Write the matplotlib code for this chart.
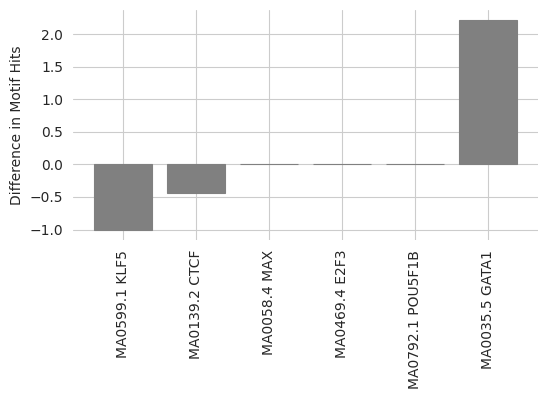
import numpy as np
import matplotlib
matplotlib.use("Agg")
import matplotlib.pyplot as plt
import seaborn as sns

# motif names and difference in hit counts
motifs = ['MA0599.1 KLF5', 'MA0139.2 CTCF', 'MA0058.4 MAX',
          'MA0469.4 E2F3', 'MA0792.1 POU5F1B', 'MA0035.5 GATA1']
diff_hits = [-1.0, -0.44, 0.0, 0.0, 0.0, 2.21]

sns.set_style("whitegrid")

fig, ax = plt.subplots(figsize=(5.48, 4.0), dpi=100)
x = np.arange(len(motifs))
ax.bar(x, diff_hits, color='grey', edgecolor='grey', linewidth=0.8)
ax.set_xticks(x)
ax.set_xticklabels(motifs, rotation=90)
ax.set_ylabel('Difference in Motif Hits')
ax.set_axisbelow(True)
for s in ax.spines.values():
    s.set_visible(False)

plt.subplots_adjust(left=0.133, right=0.982, top=0.975, bottom=0.4)
plt.savefig('out.png', dpi=100)
